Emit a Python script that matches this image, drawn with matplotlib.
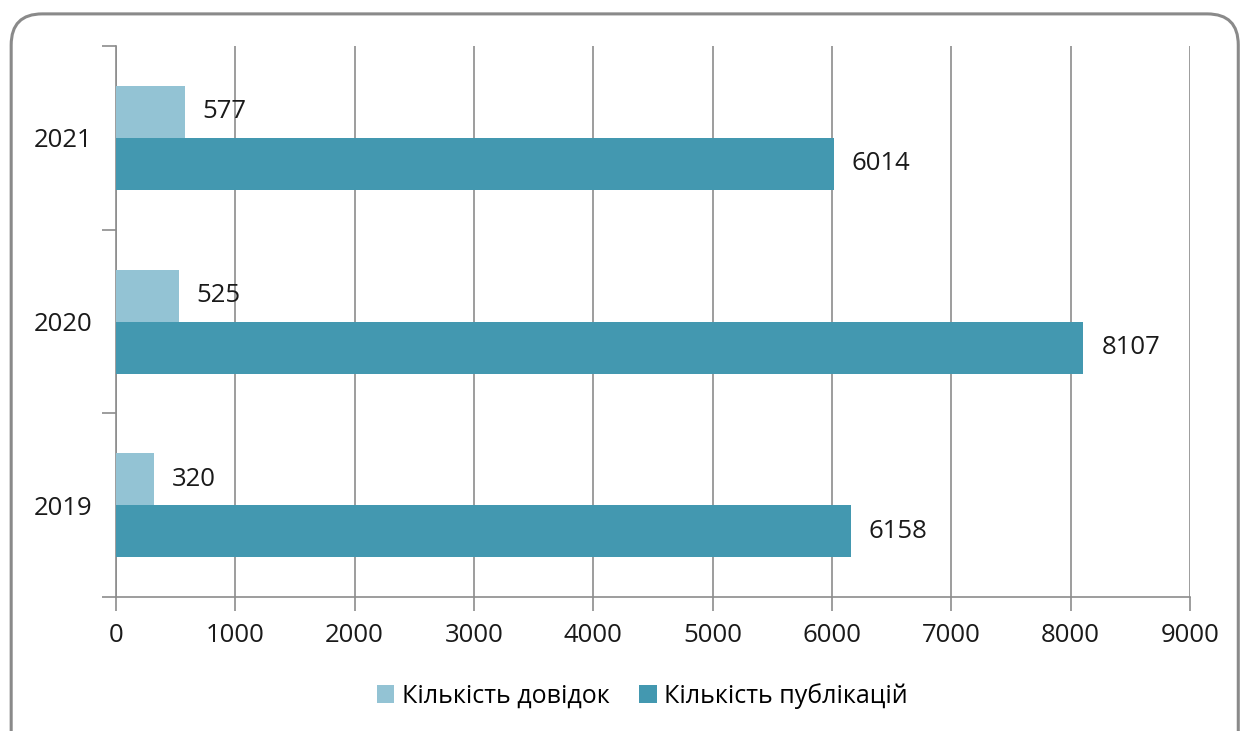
import matplotlib.pyplot as plt
from matplotlib.patches import FancyBboxPatch

# Data
years = ["2019", "2020", "2021"]
dovidok = [320, 525, 577]
publikacii = [6158, 8107, 6014]
x_ticks = [0, 1000, 2000, 3000, 4000, 5000, 6000, 7000, 8000, 9000]

light = "#93C3D4"
dark = "#4398B0"
grey = "#8C8C8C"
fs = 18.5

plt.rcParams['font.family'] = ['Open Sans', 'DejaVu Sans']

fig = plt.figure(figsize=(12.42, 7.31), dpi=100)

# Rounded frame around the chart
frame = FancyBboxPatch(
    (0.009, -0.05), 0.988, 1.031,
    boxstyle="round,pad=0,rounding_size=0.025",
    transform=fig.transFigure,
    facecolor="none", edgecolor="#8A8A8A", linewidth=2.2,
    mutation_aspect=1242 / 731, zorder=-1,
)
fig.patches.append(frame)

ax = fig.add_axes([0.0934, 0.1833, 0.8647, 0.7537])
ax.set_facecolor("none")

pos = list(range(len(years)))
h = 0.283
ax.barh([p + h / 2 for p in pos], dovidok, height=h, color=light,
        label="Кількість довідок", zorder=3)
ax.barh([p - h / 2 for p in pos], publikacii, height=h, color=dark,
        label="Кількість публікацій", zorder=3)

for p, v in zip(pos, dovidok):
    ax.text(v + 150, p + h / 2, str(v), va="center", ha="left",
            fontsize=fs, color="#1a1a1a")
for p, v in zip(pos, publikacii):
    ax.text(v + 150, p - h / 2, str(v), va="center", ha="left",
            fontsize=fs, color="#1a1a1a")

ax.set_xlim(0, 9000)
ax.set_ylim(-0.5, 2.5)
ax.set_xticks(x_ticks)
ax.set_xticklabels([str(t) for t in x_ticks], fontsize=fs, color="#1a1a1a")

# category labels centered, tick marks at boundaries
ax.set_yticks([-0.5, 0.5, 1.5, 2.5])
ax.set_yticklabels([])
ax.set_yticks(pos, minor=True)
ax.set_yticklabels(years, minor=True, fontsize=fs, color="#1a1a1a")
ax.tick_params(axis="y", which="minor", length=0, pad=17)
ax.tick_params(axis="y", which="major", length=10, color=grey, width=1.2)
ax.tick_params(axis="x", length=10, color=grey, width=1.2, pad=9)

ax.grid(axis="x", color=grey, linewidth=1.2, zorder=0)
for s in ["top", "right"]:
    ax.spines[s].set_visible(False)
for s in ["left", "bottom"]:
    ax.spines[s].set_color(grey)
    ax.spines[s].set_linewidth(1.2)

ax.legend(loc="upper center", bbox_to_anchor=(0.49, -0.115), ncol=2,
          frameon=False, fontsize=18, handlelength=0.7, handleheight=0.7,
          handletextpad=0.3, columnspacing=1.2)

plt.savefig("out.png", dpi=100)
